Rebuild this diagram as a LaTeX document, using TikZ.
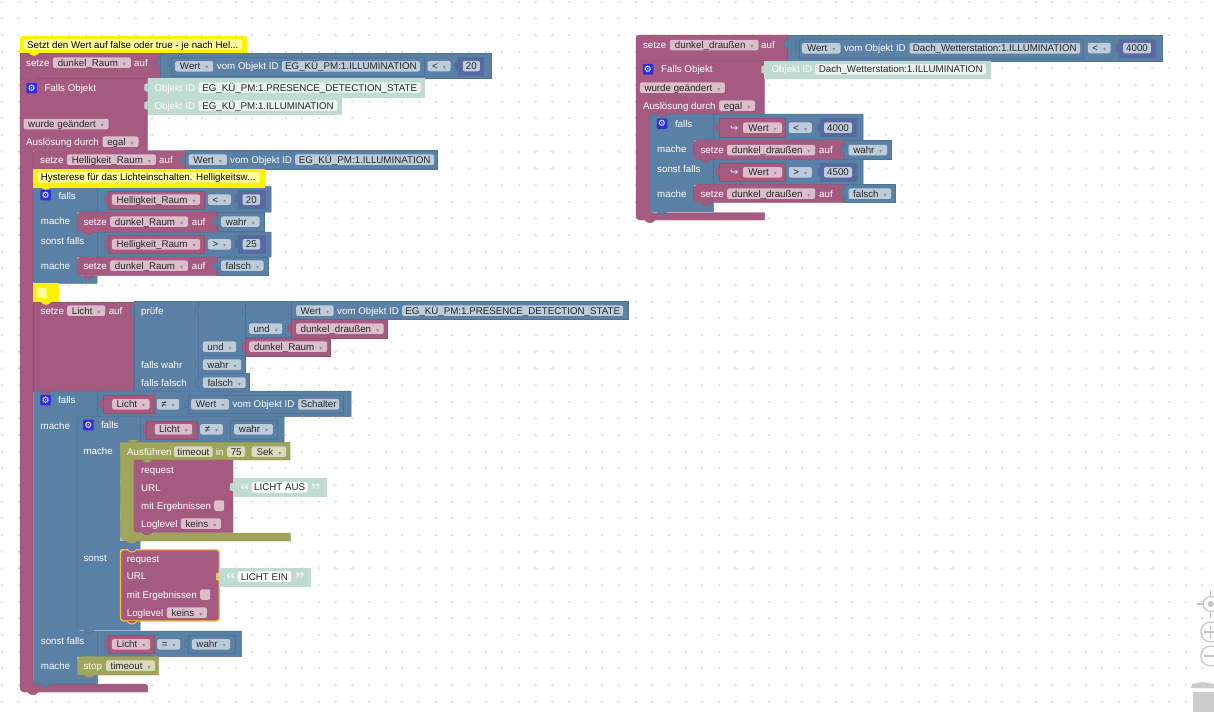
\documentclass[tikz,border=0pt]{standalone}
\usepackage{fontspec}
\usepackage{xcolor}
\usepackage{tikz}
\setmainfont{Liberation Sans}
\newfontfamily\symf{DejaVu Sans}
\newfontfamily\quof{Liberation Serif}
\definecolor{mauvebk}{HTML}{A55B80}
\definecolor{mauveln}{HTML}{95506F}
\definecolor{mauvefd}{HTML}{DBBDCC}
\definecolor{bluebk}{HTML}{5B80A5}
\definecolor{blueln}{HTML}{4E7296}
\definecolor{bluefd}{HTML}{BDCCDB}
\definecolor{olivebk}{HTML}{9FA55B}
\definecolor{olivefd}{HTML}{D9DBBD}
\definecolor{tealbk}{HTML}{BFDBD2}
\definecolor{tealfd}{HTML}{E9F3F0}
\definecolor{purplebk}{HTML}{5B67A5}
\definecolor{yellowfd}{HTML}{FFFF99}
\definecolor{gearbl}{HTML}{2F2FD8}
\definecolor{selorange}{HTML}{FBC02D}
\definecolor{fldtext}{HTML}{262626}
\tikzset{
  bm/.style={fill=mauvebk,draw=mauveln,line width=.4pt},
  bb/.style={fill=bluebk,draw=blueln,line width=.5pt},
  bo/.style={fill=olivebk,draw=olivebk!90!black,line width=.4pt},
  bt/.style={fill=tealbk,draw=tealbk,line width=.4pt},
  bp/.style={fill=purplebk,draw=blueln,line width=.6pt},
  by/.style={fill=yellow,draw=yellow,line width=.4pt},
  lab/.style={anchor=west,inner sep=0,text=white,text height=8pt,text depth=1pt},
  fld/.style={anchor=west,inner sep=0,minimum height=10.5pt,rounded corners=2pt,text=fldtext,text height=8pt,text depth=1pt},
  fm/.style={fld,fill=mauvefd},
  fb/.style={fld,fill=bluefd},
  fo/.style={fld,fill=olivefd},
  ft/.style={fld,fill=tealfd},
  fw/.style={fld,fill=white},
  fy/.style={fld,fill=yellowfd},
  gear/.style={fill=gearbl,rounded corners=1pt,minimum size=10.5pt,inner sep=0,text=white},
  griddot/.style={draw=black!14,line width=.5pt},
  ctrl/.style={draw=black!22,line width=1.2pt},
}
\newcommand{\dd}{\hspace{5pt}{\symf\fontsize{6}{6}\selectfont\textcolor{black!45}{▾}}}
\newcommand{\gearsym}{{\symf\fontsize{9}{9}\selectfont ⚙}}
\newcommand{\qtext}[1]{{\quof\fontsize{19}{19}\selectfont\bfseries #1}}
\newcommand{\tabL}[3]{\filldraw[#3] (#1,#2-4) -- (#1-3,#2-3) -- (#1-3,#2+3) -- (#1,#2+4);}
\newcommand{\bump}[3]{\filldraw[#3] (#1,#2) .. controls (#1+2,#2+4) and (#1+8,#2+4) .. (#1+10,#2);}
\begin{document}
\begin{tikzpicture}[x=1pt,y=-1pt,font=\fontsize{9.75}{11}\selectfont]
        \useasboundingbox (0,0) rectangle (1214,712);
        \clip (0,0) rectangle (1214,712);
        \fill[white] (0,0) rectangle (1214,712);

        % grid of the workspace
        \foreach \i in {0,...,72} \foreach \j in {0,...,42} {
            \draw[griddot] ({1.33+16.667*\i},{1.67+16.667*\j}) -- ++(2,0) ({2.33+16.667*\i},{0.67+16.667*\j}) -- ++(0,2);
        }

        % first stack: dunkel_Raum
        \filldraw[by] (20,53) [rounded corners=3pt] -- (20,36) -- (247,36) [sharp corners] -- (247,53) -- cycle;
        \bump{29}{36.5}{by}
        \node[fy,minimum width=218pt] (noteA) at (24,44.7) {};
        \node[lab,text=black] (noteAt) at (27,44.7) {Setzt den Wert auf false oder true - je nach Hel...};
        \filldraw[bm] (20,53) rectangle (160,78.3);
        \bump{29}{52.5}{by}
        \filldraw[bb] (160,53) rectangle (491,78.3);
        \tabL{160}{62}{bb}
        \filldraw[bb] (171,57) rectangle (424,76);
        \tabL{171}{63}{bb}
        \filldraw[bp] (458,57) rectangle (483,75);
        \tabL{458}{66}{bp}
        \node[lab] (setzeA) at (26,62.7) {setze};
        \node[fm,minimum width=78pt] (varA) at (52.7,62.7) {dunkel\_Raum\dd};
        \node[lab] (aufA) at (134,62.7) {auf};
        \node[fb,minimum width=38pt] (wertA) at (175,66.3) {Wert\dd};
        \node[lab] (vomA) at (216.7,66.3) {vom Objekt ID};
        \node[fb,minimum width=138pt] (idA) at (281.7,66.3) {EG\_KÜ\_PM:1.ILLUMINATION};
        \node[fb,minimum width=23pt] (opA) at (427.3,66) {<\dd};
        \node[fb,minimum width=17pt] (numA) at (462.7,66) {20};

        \filldraw[bm] (20,78.3) -- (147.7,78.3) -- (147.7,150.7) -- (33,150.7) [rounded corners=3pt] -- (33,684) -- (147.7,684) [sharp corners] -- (147.7,692) [rounded corners=4pt] -- (20,692) [sharp corners] -- cycle;
        \bump{28}{691.8}{bm}
        \bump{28}{78}{bm}
        \filldraw[bt] (147.7,78.3) rectangle (424.3,96.7);
        \filldraw[bt] (147.7,96.7) rectangle (341,114.3);
        \tabL{147.7}{87.5}{bt}
        \tabL{147.7}{105.5}{bt}
        \node[gear] (gearA) at (31.7,88) {\gearsym};
        \node[lab] (fallsOA) at (44.3,87.7) {Falls Objekt};
        \node[lab] (objA) at (154.3,87.7) {Objekt ID};
        \node[ft,minimum width=222.4pt] (idB) at (198.3,87.5) {EG\_KÜ\_PM:1.PRESENCE\_DETECTION\_STATE};
        \node[lab] (objB) at (154.3,105.7) {Objekt ID};
        \node[ft,minimum width=139pt] (idC) at (198.3,105.7) {EG\_KÜ\_PM:1.ILLUMINATION};
        \node[fm,minimum width=85pt] (wurdeA) at (23.3,124) {wurde geändert\dd};
        \node[lab] (ausA) at (26,141.7) {Auslösung durch};
        \node[fm,minimum width=36pt] (egalA) at (102.3,141.7) {egal\dd};

        % Helligkeit_Raum
        \filldraw[bm] (33,169) [rounded corners=3pt] -- (33,150.7) [sharp corners] -- (185,150.7) -- (185,169) -- cycle;
        \bump{41}{150.7}{bm}
        \filldraw[bb] (185,150.7) rectangle (437.7,169);
        \tabL{185}{159.7}{bb}
        \node[lab] (setzeB) at (40,159.7) {setze};
        \node[fm,minimum width=89pt] (varB) at (66.7,159.7) {Helligkeit\_Raum\dd};
        \node[lab] (aufB) at (159,159.7) {auf};
        \node[fb,minimum width=38.4pt] (wertB) at (188.3,159.7) {Wert\dd};
        \node[lab] (vomB) at (230,159.7) {vom Objekt ID};
        \node[fb,minimum width=139pt] (idD) at (295,159.7) {EG\_KÜ\_PM:1.ILLUMINATION};

        % falls block of the hysteresis
        \filldraw[bb] (33,186.7) -- (271,186.7) -- (271,212) -- (77,212) [rounded corners=3pt] -- (77,232) [sharp corners] -- (271,232) -- (271,257) -- (77,257) [rounded corners=3pt] -- (77,276) [sharp corners] -- (97,276) -- (97,283.3) [rounded corners=3pt] -- (33,283.3) [sharp corners] -- cycle;
        \draw[blueln,line width=.5pt] (97,186.7) -- (97,212) (97,232) -- (97,257);
        \bump{40}{283}{bb}
        \filldraw[by] (33,169) rectangle (264,186.7);
        \bump{41}{186.5}{by}
        \node[fy,minimum width=222.3pt] (noteB) at (37.7,177.3) {};
        \node[lab,text=black] (noteBt) at (40.7,177.3) {Hysterese für das Lichteinschalten. Helligkeitsw...};
        \node[gear] (gearB) at (45.7,195) {\gearsym};
        \node[lab] (fallsA) at (58.3,195.7) {falls};
        \filldraw[bm] (108,190.7) rectangle (204,209);
        \tabL{108}{199.7}{bm}
        \filldraw[bp] (238,190) rectangle (265,208.3);
        \tabL{238}{199}{bp}
        \node[fm,minimum width=88.3pt] (varC) at (111.7,199.5) {Helligkeit\_Raum\dd};
        \node[fb,minimum width=23pt] (opB) at (207.7,199.5) {<\dd};
        \node[fb,minimum width=17.7pt] (numB) at (242.3,199.5) {20};
        \node[lab] (macheA) at (40.7,220.7) {mache};
        \filldraw[bm] (77,232) [rounded corners=4pt] -- (77,212) [sharp corners] -- (217,212) -- (217,232) [rounded corners=4pt] -- cycle;
        \bump{84}{231.7}{bm}
        \filldraw[bb] (217,212) rectangle (264,231.7);
        \tabL{217}{221.7}{bb}
        \node[lab] (setzeC) at (83.3,221.7) {setze};
        \node[fm,minimum width=77.7pt] (varD) at (110,221.7) {dunkel\_Raum\dd};
        \node[lab] (aufC) at (191.7,221.7) {auf};
        \node[fb,minimum width=38.3pt] (wahrA) at (221,221.7) {wahr\dd};
        \node[lab] (sonstA) at (40.7,240.7) {sonst falls};
        \filldraw[bm] (108,235) rectangle (204,253.3);
        \tabL{108}{244}{bm}
        \filldraw[bp] (238,235) rectangle (265,253.3);
        \tabL{238}{244}{bp}
        \node[fm,minimum width=88.3pt] (varE) at (111.7,244.3) {Helligkeit\_Raum\dd};
        \node[fb,minimum width=23pt] (opC) at (207.7,244.3) {>\dd};
        \node[fb,minimum width=17.7pt] (numC) at (242.3,244.3) {25};
        \node[lab] (macheB) at (40.7,265.7) {mache};
        \filldraw[bm] (77,275.7) [rounded corners=4pt] -- (77,257) [sharp corners] -- (217,257) -- (217,275.7) [rounded corners=4pt] -- cycle;
        \bump{84}{275.4}{bm}
        \filldraw[bb] (217,257) rectangle (268,275.7);
        \tabL{217}{266}{bb}
        \node[lab] (setzeD) at (83.3,265.7) {setze};
        \node[fm,minimum width=77.7pt] (varF) at (110,265.7) {dunkel\_Raum\dd};
        \node[lab] (aufD) at (191.7,265.7) {auf};
        \node[fb,minimum width=42.3pt] (falschA) at (221,265.7) {falsch\dd};
        \filldraw[by] (33,283.3) rectangle (57.7,301.7);
        \bump{41}{283}{by}
        \node[fy,minimum width=10pt] (noteC) at (36.5,292.5) {};

        % setze Licht
        \filldraw[bm] (33.6,301.7) rectangle (134,391);
        \bump{41}{301.5}{by}
        \filldraw[bb] (134,301.7) rectangle (198.6,391);
        \tabL{134}{310.7}{bb}
        \filldraw[bb] (198.6,301.7) rectangle (245.4,355.7);
        \tabL{198.6}{310.7}{bb}
        \filldraw[bb] (245.4,301.7) rectangle (291,337.7);
        \tabL{245.4}{310.7}{bb}
        \filldraw[bb] (291,301.7) rectangle (628,319.3);
        \tabL{291}{310.7}{bb}
        \filldraw[bm] (291,319.3) rectangle (387.6,337.7);
        \tabL{291}{328.7}{bm}
        \filldraw[bm] (245.4,337.7) rectangle (330.6,355.7);
        \tabL{245.4}{346.7}{bm}
        \filldraw[bb] (198.6,355.7) rectangle (245.4,373.3);
        \tabL{198.6}{364.7}{bb}
        \filldraw[bb] (198.6,373.3) rectangle (249,391);
        \tabL{198.6}{382.7}{bb}
        \node[lab] (setzeE) at (40.5,310.7) {setze};
        \node[fm,minimum width=38pt] (varG) at (67,310.7) {Licht\dd};
        \node[lab] (aufE) at (108.6,310.7) {auf};
        \node[lab] (pruefe) at (141,310.7) {prüfe};
        \node[fb,minimum width=37.4pt] (wertC) at (296,310.7) {Wert\dd};
        \node[lab] (vomC) at (337,310.7) {vom Objekt ID};
        \node[fb,minimum width=221pt] (idE) at (402,310.7) {EG\_KÜ\_PM:1.PRESENCE\_DETECTION\_STATE};
        \node[fb,minimum width=33pt] (undA) at (249,328.7) {und\dd};
        \node[fm,minimum width=87.5pt] (varH) at (296,328.7) {dunkel\_draußen\dd};
        \node[fb,minimum width=33.3pt] (undB) at (202.7,346.7) {und\dd};
        \node[fm,minimum width=78pt] (varI) at (249,346.7) {dunkel\_Raum\dd};
        \node[lab] (fallsW) at (141,364.7) {falls wahr};
        \node[fb,minimum width=38.3pt] (wahrB) at (202.7,364.7) {wahr\dd};
        \node[lab] (fallsF) at (141,382.7) {falls falsch};
        \node[fb,minimum width=42.7pt] (falschB) at (202.7,382.7) {falsch\dd};

        % outer falls
        \filldraw[bb] (33.6,391) -- (351,391) -- (351,416.7) -- (77,416.7) [rounded corners=3pt] -- (77,631) [sharp corners] -- (241.7,631) -- (241.7,656.7) -- (77,656.7) [rounded corners=3pt] -- (77,675) [sharp corners] -- (97.3,675) -- (97.3,684) [rounded corners=3pt] -- (33.6,684) [sharp corners] -- cycle;
        \draw[blueln,line width=.5pt] (97.6,391) -- (97.6,416.7) (97.3,631) -- (97.3,656.7);
        \bump{41}{390.8}{bm}
        \bump{40}{683.7}{bb}
        \filldraw[bm] (103,395) rectangle (154.6,413);
        \tabL{103}{404}{bm}
        \filldraw[bb] (188,395.7) rectangle (343,413.7);
        \tabL{188}{404}{bb}
        \node[gear] (gearC) at (45.6,400) {\gearsym};
        \node[lab] (fallsB) at (58,400) {falls};
        \node[fm,minimum width=37.3pt] (varJ) at (112,404.3) {Licht\dd};
        \node[fb,minimum width=22.4pt] (opD) at (156.6,404.3) {≠\dd};
        \node[fb,minimum width=37.7pt] (wertD) at (191,404.3) {Wert\dd};
        \node[lab] (vomD) at (232.4,404.3) {vom Objekt ID};
        \node[fb,minimum width=41pt] (idF) at (298,404.3) {Schalter};
        \node[lab] (macheC) at (40.5,425.7) {mache};

        % inner falls
        \filldraw[bb] (77,416.7) -- (284,416.7) -- (284,442.3) -- (120,442.3) -- (120,541) -- (140,541) -- (140,549) -- (120,549) [rounded corners=3pt] -- (120,621) [sharp corners] -- (140,621) -- (140,630) [rounded corners=3pt] -- (77,630) [sharp corners] -- cycle;
        \draw[blueln,line width=.5pt] (140,416.7) -- (140,442.3);
        \bump{84}{416.5}{bb}
        \bump{84}{630}{bb}
        \filldraw[bm] (146,420.7) rectangle (197.4,439);
        \tabL{146}{429}{bm}
        \filldraw[bb] (230,420.7) rectangle (277.6,439);
        \tabL{230}{429}{bb}
        \node[gear] (gearD) at (88.4,425) {\gearsym};
        \node[lab] (fallsC) at (100.8,425) {falls};
        \node[fm,minimum width=37.4pt] (varK) at (154.6,429.3) {Licht\dd};
        \node[fb,minimum width=22.6pt] (opE) at (200,429.3) {≠\dd};
        \node[fb,minimum width=38.7pt] (wahrC) at (234,429.3) {wahr\dd};
        \node[lab] (macheD) at (83.3,450.7) {mache};
        \node[lab] (sonstB) at (83.3,557.7) {sonst};

        % Ausfuehren timeout
        \filldraw[bo] (120,442.3) -- (290,442.3) -- (290,460) -- (134,460) [rounded corners=3pt] -- (134,533) [sharp corners] -- (290.7,533) -- (290.7,541) [rounded corners=4pt] -- (120.7,541) -- (120,442.3);
        \bump{128}{440}{bo}
        \bump{127}{540.6}{bo}
        \node[lab] (ausfA) at (127,451.7) {Ausführen};
        \node[fo,minimum width=38.4pt] (timeA) at (174,451.7) {timeout};
        \node[lab] (inA) at (215.7,451.7) {in};
        \node[fo,minimum width=18pt] (numD) at (227,451.7) {75};
        \node[fo,minimum width=34.5pt] (sekA) at (251.5,451.7) {Sek\dd};

        % request one
        \filldraw[bm] (134,460) -- (233,460) -- (233,532.3) [rounded corners=3pt] -- (134,532.3) [sharp corners] -- cycle;
        \bump{142}{532}{bm}
        \bump{142}{459.5}{bo}
        \filldraw[bt] (233,478) rectangle (326.5,496);
        \tabL{233}{487}{bt}
        \node[lab] (reqA) at (141,469.7) {request};
        \node[lab] (urlA) at (141,487.7) {URL};
        \node[lab,text=tealfd] (quoA) at (240,493) {\qtext{“}};
        \node[fw,minimum width=55.9pt] (strA) at (251.5,487.3) {LICHT AUS};
        \node[lab,text=tealfd] (quoB) at (310.6,493) {\qtext{”}};
        \node[lab] (mitA) at (141,505.7) {mit Ergebnissen};
        \node[fm,minimum width=10pt] (boxA) at (214,505.5) {};
        \node[lab] (logA) at (141,523.7) {Loglevel};
        \node[fm,minimum width=40pt] (keinsA) at (180.7,523.7) {keins\dd};

        % request two
        \filldraw[fill=mauvebk,draw=selorange,line width=1.3pt,rounded corners=3pt] (120.5,549.8) -- (219.3,549.8) -- (219.3,621) -- (120.5,621) -- cycle;
        \bump{127}{549}{fill=bluebk,draw=selorange,line width=1.1pt}
        \bump{127}{621}{fill=mauvebk,draw=selorange,line width=1.1pt}
        \filldraw[bt] (219.3,567.7) rectangle (310,585.7);
        \tabL{219.3}{576.7}{selorange!60!tealbk}
        \node[lab] (reqB) at (126.7,558.7) {request};
        \node[lab] (urlB) at (126.7,576.3) {URL};
        \node[lab,text=tealfd] (quoC) at (226,582) {\qtext{“}};
        \node[fw,minimum width=53.7pt] (strB) at (237.3,576.5) {LICHT EIN};
        \node[lab,text=tealfd] (quoD) at (295,582) {\qtext{”}};
        \node[lab] (mitB) at (126.7,594.7) {mit Ergebnissen};
        \node[fm,minimum width=10pt] (boxB) at (200,594.5) {};
        \node[lab] (logB) at (126.7,612.7) {Loglevel};
        \node[fm,minimum width=40pt] (keinsB) at (166.7,612.7) {keins\dd};

        % sonst falls Licht = wahr
        \filldraw[bm] (108,635) rectangle (154,653);
        \tabL{108}{644}{bm}
        \filldraw[bb] (188,635) rectangle (235,653);
        \tabL{188}{644}{bb}
        \node[lab] (sonstC) at (40.7,640.7) {sonst falls};
        \node[fm,minimum width=38.3pt] (varL) at (111.7,644.3) {Licht\dd};
        \node[fb,minimum width=23pt] (opF) at (157,644.3) {=\dd};
        \node[fb,minimum width=38.3pt] (wahrD) at (191.7,644.3) {wahr\dd};
        \node[lab] (macheE) at (40.7,665.7) {mache};
        \filldraw[bo] (77.3,675) [rounded corners=4pt] -- (77.3,656.7) [sharp corners] -- (158.7,656.7) -- (158.7,675) -- cycle;
        \bump{84}{656.5}{bo}
        \bump{84}{674.7}{bo}
        \node[lab] (stopA) at (83.3,665.7) {stop};
        \node[fo,minimum width=49.3pt] (timeB) at (105.7,665.7) {timeout\dd};

        % second stack: dunkel_draussen
        \filldraw[bm] (636,61) [rounded corners=3pt] -- (636,35) [sharp corners] -- (787.6,35) -- (787.6,61) -- cycle;
        \bump{645}{35}{bm}
        \filldraw[bb] (787.6,35) rectangle (1162,61);
        \tabL{787.6}{44}{bb}
        \filldraw[bb] (799,39.3) rectangle (1083.5,58);
        \tabL{799}{45}{bb}
        \filldraw[bp] (1119,39.3) rectangle (1155,57.5);
        \tabL{1119}{48}{bp}
        \node[lab] (setzeF) at (642.8,45) {setze};
        \node[fm,minimum width=88.6pt] (varM) at (669.7,45) {dunkel\_draußen\dd};
        \node[lab] (aufF) at (761,45) {auf};
        \node[fb,minimum width=38.6pt] (wertE) at (801.7,48.3) {Wert\dd};
        \node[lab] (vomE) at (843.8,48.3) {vom Objekt ID};
        \node[fb,minimum width=170.7pt] (idG) at (909.3,48.3) {Dach\_Wetterstation:1.ILLUMINATION};
        \node[fb,minimum width=22.7pt] (opG) at (1087.6,48) {<\dd};
        \node[fb,minimum width=27.7pt] (numE) at (1123,48) {4000};

        \filldraw[bm] (636,61) -- (764.5,61) -- (764.5,114) -- (650,114) [rounded corners=3pt] -- (650,212.7) [sharp corners] -- (764.5,212.7) -- (764.5,220) [rounded corners=4pt] -- (636,220) [sharp corners] -- cycle;
        \bump{645}{60.7}{bm}
        \bump{645}{219.8}{bm}
        \filldraw[bt] (764.5,61) rectangle (990,78.3);
        \tabL{764.5}{69.5}{bt}
        \node[gear] (gearE) at (648,69.3) {\gearsym};
        \node[lab] (fallsOB) at (661,69.3) {Falls Objekt};
        \node[lab] (objC) at (771.4,69.3) {Objekt ID};
        \node[ft,minimum width=171pt] (idH) at (815,69.3) {Dach\_Wetterstation:1.ILLUMINATION};
        \node[fm,minimum width=85pt] (wurdeB) at (639.7,87.7) {wurde geändert\dd};
        \node[lab] (ausB) at (642.8,105.7) {Auslösung durch};
        \node[fm,minimum width=35.8pt] (egalB) at (719,105.7) {egal\dd};

        \filldraw[bb] (650,114) -- (863,114) -- (863,140) -- (693.8,140) [rounded corners=3pt] -- (693.8,159.3) [sharp corners] -- (863,159.3) -- (863,184.3) -- (693.8,184.3) [rounded corners=3pt] -- (693.8,202.7) [sharp corners] -- (713.4,202.7) -- (713.4,211.7) [rounded corners=3pt] -- (650,211.7) [sharp corners] -- cycle;
        \draw[blueln,line width=.5pt] (713.4,114) -- (713.4,140) (713.4,159.3) -- (713.4,184.3);
        \bump{657}{113.8}{bm}
        \bump{657}{211.4}{bb}
        \filldraw[bm] (719.6,118.3) rectangle (785,136.7);
        \tabL{719.6}{127.5}{bm}
        \filldraw[bp] (820.7,118.3) rectangle (856,136.7);
        \tabL{820.7}{127.5}{bp}
        \node[gear] (gearF) at (662,123.7) {\gearsym};
        \node[lab] (fallsD) at (674.8,123.7) {falls};
        \node[lab] (arrA) at (730,127.7) {\symf ↪};
        \node[fm,minimum width=39pt] (varN) at (742.8,127.7) {Wert\dd};
        \node[fb,minimum width=23pt] (opH) at (788.6,127.7) {<\dd};
        \node[fb,minimum width=28pt] (numF) at (823.8,127.7) {4000};
        \node[lab] (macheF) at (657,149) {mache};
        \filldraw[bm] (693.8,159.3) [rounded corners=4pt] -- (693.8,140) [sharp corners] -- (844.5,140) -- (844.5,159.3) [rounded corners=4pt] -- cycle;
        \bump{701}{159}{bm}
        \filldraw[bb] (844.5,140) rectangle (891.4,159.3);
        \tabL{844.5}{149.5}{bb}
        \node[lab] (setzeG) at (700.3,150) {setze};
        \node[fm,minimum width=88pt] (varO) at (727,150) {dunkel\_draußen\dd};
        \node[lab] (aufG) at (819,150) {auf};
        \node[fb,minimum width=38.7pt] (wahrE) at (848.3,150) {wahr\dd};
        \node[lab] (sonstD) at (657,168.7) {sonst falls};
        \filldraw[bm] (719.6,163) rectangle (785,181.3);
        \tabL{719.6}{172}{bm}
        \filldraw[bp] (820.7,163) rectangle (856,181.3);
        \tabL{820.7}{172}{bp}
        \node[lab] (arrB) at (730,172.3) {\symf ↪};
        \node[fm,minimum width=39pt] (varP) at (742.8,172.3) {Wert\dd};
        \node[fb,minimum width=23pt] (opI) at (788.6,172.3) {>\dd};
        \node[fb,minimum width=28pt] (numG) at (823.8,172.3) {4500};
        \node[lab] (macheG) at (657,193.7) {mache};
        \filldraw[bm] (693.8,202.7) [rounded corners=4pt] -- (693.8,184.3) [sharp corners] -- (844.5,184.3) -- (844.5,202.7) [rounded corners=4pt] -- cycle;
        \bump{701}{202.4}{bm}
        \filldraw[bb] (844.5,184.3) rectangle (895.5,202.7);
        \tabL{844.5}{193.5}{bb}
        \node[lab] (setzeH) at (700.3,193.7) {setze};
        \node[fm,minimum width=88pt] (varQ) at (727,193.7) {dunkel\_draußen\dd};
        \node[lab] (aufH) at (819,193.7) {auf};
        \node[fb,minimum width=42.7pt] (falschC) at (848.3,193.7) {falsch\dd};

        % workspace controls
        \draw[ctrl] (1210.7,604) circle (7.5);
        \fill[black!22] (1210.7,604) circle (3);
        \draw[ctrl] (1210.7,590) -- (1210.7,596) (1210.7,612) -- (1210.7,618) (1197,604) -- (1203,604);
        \draw[ctrl] (1210.7,632) circle (10);
        \draw[ctrl] (1204,632) -- (1214,632) (1210.7,625.5) -- (1210.7,638.5);
        \draw[ctrl] (1210.7,656) circle (10);
        \draw[ctrl] (1204,656) -- (1214,656);
        \fill[black!20] (1191,688) -- (1192,684) -- (1203,682) -- (1214,684) -- (1214,688) -- cycle;
        \fill[black!20] (1193,692) rectangle (1214,712);
\end{tikzpicture}
\end{document}
